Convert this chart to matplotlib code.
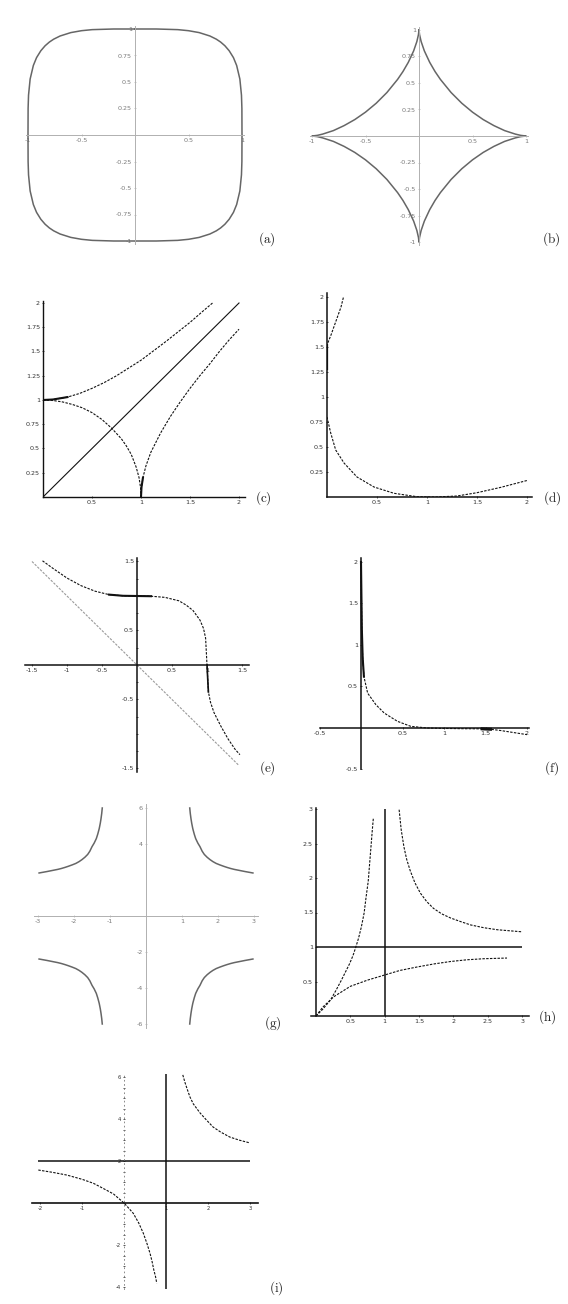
import matplotlib
matplotlib.use("Agg")
import matplotlib.pyplot as plt
import numpy as np

plt.rcParams["mathtext.fontset"] = "cm"
plt.rcParams["axes.unicode_minus"] = False
plt.rcParams["font.family"] = "DejaVu Sans"

# ---------------- data ----------------
# (a) quartic oval, first quadrant (mirrored to the other three)
a_x = [0.0, 0.2, 0.4, 0.5, 0.6, 0.7, 0.76, 0.8, 0.84, 0.88, 0.92, 0.95, 0.98, 0.995, 0.999, 1.0]
a_y = [1.0, 1.0, 0.994, 0.984, 0.966, 0.934, 0.904, 0.877, 0.842, 0.795, 0.730, 0.656, 0.528, 0.376, 0.251, 0.0]

# (b) astroid, first quadrant (mirrored)
b_x = [0.0, 0.005, 0.02, 0.05, 0.1, 0.15, 0.2, 0.3, 0.4, 0.5, 0.6, 0.7, 0.8, 0.9, 0.95, 1.0]
b_y = [1.0, 0.957, 0.891, 0.803, 0.695, 0.608, 0.534, 0.410, 0.309, 0.225, 0.155, 0.098, 0.051, 0.018, 0.006, 0.0]

# (c) diagonal, upper branch, quarter circle, lower branch
c_diag_x = [0.0, 2.0]
c_diag_y = [0.0, 2.0]
c_up_x = [0.0, 0.1, 0.25, 0.375, 0.5, 0.625, 0.75, 0.875, 1.0, 1.125, 1.25, 1.375, 1.5, 1.625, 1.73]
c_up_y = [1.0, 1.005, 1.03, 1.068, 1.12, 1.18, 1.25, 1.33, 1.41, 1.505, 1.60, 1.70, 1.80, 1.91, 2.0]
c_circ_x = [0.0, 0.1, 0.2, 0.3, 0.4, 0.5, 0.6, 0.7, 0.8, 0.85, 0.9, 0.95, 0.98, 0.995, 1.0]
c_circ_y = [1.0, 0.995, 0.98, 0.954, 0.92, 0.87, 0.80, 0.71, 0.60, 0.527, 0.44, 0.31, 0.20, 0.10, 0.0]
c_low_x = [1.0, 1.005, 1.02, 1.05, 1.1, 1.2, 1.3, 1.4, 1.5, 1.6, 1.7, 1.8, 1.9, 2.0]
c_low_y = [0.0, 0.1, 0.2, 0.32, 0.46, 0.66, 0.83, 0.98, 1.12, 1.25, 1.37, 1.50, 1.62, 1.73]

# (d) two branches
d_x = [0.0, 0.037, 0.087, 0.17, 0.30, 0.47, 0.67, 0.90, 1.09, 1.30, 1.50, 1.74, 2.0]
d_y = [0.80, 0.64, 0.47, 0.34, 0.20, 0.10, 0.037, 0.003, 0.0, 0.01, 0.043, 0.097, 0.165]
d2_x = [0.0, 0.0, 0.04, 0.09, 0.14, 0.165]
d2_y = [1.28, 1.52, 1.62, 1.76, 1.90, 2.0]

# (e) cubic curve and its asymptote
e_x = [-1.35, -1.2, -1.0, -0.8, -0.6, -0.4, -0.2, 0.0, 0.2, 0.4, 0.6, 0.7, 0.8, 0.9, 0.95,
       0.98, 1.0, 1.02, 1.05, 1.1, 1.2, 1.3, 1.4, 1.47]
e_y = [1.51, 1.40, 1.26, 1.15, 1.07, 1.02, 1.003, 1.0, 0.997, 0.98, 0.93, 0.87, 0.79, 0.65, 0.53,
       0.39, 0.0, -0.39, -0.54, -0.69, -0.89, -1.07, -1.22, -1.30]
e_asym_x = [-1.5, 1.45]
e_asym_y = [1.5, -1.45]

# (f) decaying curve
f_x = [0.0, 0.005, 0.01, 0.02, 0.035, 0.08, 0.18, 0.28, 0.44, 0.60, 0.80, 1.0, 1.2, 1.46, 1.56, 1.68, 2.0]
f_y = [2.0, 1.6, 1.2, 0.85, 0.62, 0.42, 0.28, 0.18, 0.08, 0.02, 0.0, -0.005, -0.008, -0.01, -0.015,
       -0.03, -0.08]

# (g) one branch, mirrored into four quadrants
g_x = [1.215, 1.23, 1.25, 1.27, 1.30, 1.34, 1.38, 1.44, 1.50, 1.56, 1.62, 1.70, 1.78, 1.86, 1.95,
       2.05, 2.16, 2.25, 2.35, 2.45, 2.55, 2.65, 2.75, 2.86, 2.97]
g_y = [6.0, 5.7, 5.4, 5.15, 4.85, 4.55, 4.3, 4.05, 3.85, 3.6, 3.42, 3.26, 3.13, 3.02, 2.92,
       2.84, 2.76, 2.70, 2.64, 2.59, 2.55, 2.51, 2.47, 2.43, 2.39]

# (h) three curves and two asymptotes
h1_x = [0.0, 0.1, 0.21, 0.29, 0.37, 0.43, 0.49, 0.54, 0.58, 0.62, 0.66, 0.70, 0.73, 0.76, 0.78, 0.80, 0.82, 0.835]
h1_y = [0.0, 0.1, 0.23, 0.37, 0.52, 0.64, 0.76, 0.88, 1.0, 1.13, 1.29, 1.49, 1.73, 1.95, 2.2, 2.45, 2.7, 2.87]
h2_x = [0.0, 0.1, 0.26, 0.5, 0.75, 0.985, 1.22, 1.47, 1.72, 1.96, 2.2, 2.44, 2.78]
h2_y = [0.0, 0.13, 0.28, 0.43, 0.52, 0.59, 0.66, 0.71, 0.755, 0.79, 0.815, 0.83, 0.84]
h3_x = [1.21, 1.24, 1.28, 1.32, 1.37, 1.44, 1.52, 1.61, 1.71, 1.83, 1.96, 2.1, 2.25, 2.44, 2.64, 2.82, 3.0]
h3_y = [2.99, 2.70, 2.45, 2.27, 2.11, 1.93, 1.78, 1.66, 1.56, 1.48, 1.42, 1.37, 1.32, 1.28, 1.25, 1.235, 1.22]
h_asym_x = 1.0
h_asym_y = 1.0

# (i) hyperbola branches and asymptotes
i_right_x = [1.40, 1.45, 1.50, 1.57, 1.65, 1.81, 1.95, 2.12, 2.30, 2.52, 2.75, 3.0]
i_right_y = [6.1, 5.75, 5.45, 5.05, 4.72, 4.29, 3.98, 3.62, 3.38, 3.14, 2.99, 2.86]
i_left_x = [-2.04, -1.7, -1.36, -1.0, -0.73, -0.5, -0.25, 0.0, 0.1, 0.22, 0.35, 0.46, 0.55, 0.62,
            0.67, 0.71, 0.75, 0.78]
i_left_y = [1.57, 1.46, 1.33, 1.13, 0.94, 0.70, 0.43, 0.0, -0.22, -0.49, -0.95, -1.44, -1.95, -2.4,
            -2.8, -3.19, -3.5, -3.82]
i_asym_x = 1.0
i_asym_y = 2.0

# ---------------- layout helpers ----------------
W, H = 568, 1304
fig = plt.figure(figsize=(W / 100, H / 100), dpi=100)
fig.patch.set_facecolor("white")


def make_axes(origin, scale, xlim, ylim):
    ox, oy = origin
    sx, sy = scale
    x0 = ox + xlim[0] * sx
    x1 = ox + xlim[1] * sx
    ytop = oy - ylim[1] * sy
    ybot = oy - ylim[0] * sy
    ax = fig.add_axes([x0 / W, 1 - ybot / H, (x1 - x0) / W, (ybot - ytop) / H])
    ax.set_xlim(*xlim)
    ax.set_ylim(*ylim)
    ax.patch.set_visible(False)
    return ax


def fmt(v):
    return "%g" % v


def style(ax, color, lw, xt, yt, label_color, xl=None, yl=None, fs=4.6):
    ax.spines["top"].set_visible(False)
    ax.spines["right"].set_visible(False)
    for s in ("left", "bottom"):
        ax.spines[s].set_position(("data", 0))
        ax.spines[s].set_color(color)
        ax.spines[s].set_linewidth(lw)
    ax.set_xticks(xt)
    ax.set_yticks(yt)
    ax.set_xticklabels(xl if xl is not None else [fmt(v) for v in xt])
    ax.set_yticklabels(yl if yl is not None else [fmt(v) for v in yt])
    ax.tick_params(axis="both", which="both", length=2, width=0.5, color=color,
                   labelcolor=label_color, labelsize=fs, pad=1.2, direction="inout")


def panel_label(x, y, s):
    fig.text(x / W, 1 - y / H, r"$\mathrm{(%s)}$" % s, ha="center", va="center",
             fontsize=9.5, color="#222222")


def mirror4(x, y):
    x = np.asarray(x)
    y = np.asarray(y)
    xs = np.concatenate([x, x[::-1], -x, -x[::-1], x[:1]])
    ys = np.concatenate([y, -y[::-1], -y, y[::-1], y[:1]])
    return xs, ys


DASH = (0, (2.2, 1.2))
INK = "#111111"
GREY_AX = "#b0b0b0"
GREY_LBL = "#7a7a7a"
GREY_CURVE = "#666666"

# ---------------- (a) ----------------
ax = make_axes((135, 135), (107, 106), (-1.02, 1.02), (-1.03, 1.03))
style(ax, GREY_AX, 0.7, [-1, -0.5, 0.5, 1], [-1, -0.75, -0.5, -0.25, 0.25, 0.5, 0.75, 1],
      GREY_LBL)
xs, ys = mirror4(a_x, a_y)
ax.plot(xs, ys, color=GREY_CURVE, lw=1.1)
panel_label(267, 239, "a")

# ---------------- (b) ----------------
ax = make_axes((419, 136), (107, 106), (-1.02, 1.02), (-1.03, 1.03))
style(ax, GREY_AX, 0.7, [-1, -0.5, 0.5, 1], [-1, -0.75, -0.5, -0.25, 0.25, 0.5, 0.75, 1],
      GREY_LBL)
xs, ys = mirror4(b_x, b_y)
ax.plot(xs, ys, color=GREY_CURVE, lw=1.1)
panel_label(551, 239, "b")

# ---------------- (c) ----------------
ax = make_axes((43, 497), (98, 97), (0, 2.06), (0, 2.02))
style(ax, INK, 1.0, [0.5, 1, 1.5, 2], [0.25, 0.5, 0.75, 1, 1.25, 1.5, 1.75, 2], "#333333")
ax.plot(c_diag_x, c_diag_y, color=INK, lw=0.8)
ax.plot(c_up_x, c_up_y, color=INK, lw=0.8, ls=DASH)
ax.plot(c_circ_x, c_circ_y, color=INK, lw=0.8, ls=DASH)
ax.plot(c_low_x, c_low_y, color=INK, lw=0.8, ls=DASH)
ax.plot(c_up_x[:3], c_up_y[:3], color=INK, lw=1.5)
ax.plot(c_low_x[:3], c_low_y[:3], color=INK, lw=1.5)
panel_label(263, 498, "c")

# ---------------- (d) ----------------
ax = make_axes((327, 497), (100, 100), (0, 2.05), (0, 2.04))
style(ax, INK, 1.1, [0.5, 1, 1.5, 2], [0.25, 0.5, 0.75, 1, 1.25, 1.5, 1.75, 2], "#333333")
ax.plot(d_x, d_y, color=INK, lw=0.8, ls=DASH)
ax.plot(d2_x, d2_y, color=INK, lw=0.8, ls=DASH)
ax.plot(d2_x[:2], d2_y[:2], color=INK, lw=1.6)
panel_label(552, 498, "d")

# ---------------- (e) ----------------
ax = make_axes((137, 665), (70, 69), (-1.6, 1.6), (-1.55, 1.55))
style(ax, INK, 1.1, [-1.5, -1, -0.5, 0.5, 1, 1.5], [-1.5, -1, -0.5, 0.5, 1, 1.5], "#333333",
      yl=["-1.5", "", "-0.5", "0.5", "", "1.5"])
ax.set_yticks([-1.25, -0.75, -0.25, 0.25, 0.75, 1.25], minor=True)
ax.plot(e_asym_x, e_asym_y, color="#9a9a9a", lw=0.8, ls=DASH)
ax.plot(e_x, e_y, color=INK, lw=0.8, ls=DASH)
ax.plot(e_x[5:9], e_y[5:9], color=INK, lw=1.5)
ax.plot(e_x[16:18], e_y[16:18], color=INK, lw=1.2)
panel_label(267, 768, "e")

# ---------------- (f) ----------------
ax = make_axes((361, 728), (83, 83), (-0.5, 2.02), (-0.5, 2.05))
style(ax, INK, 1.1, [-0.5, 0.5, 1, 1.5, 2], [-0.5, 0.5, 1, 1.5, 2], "#333333")
ax.plot(f_x, f_y, color=INK, lw=0.8, ls=DASH)
ax.plot(f_x[:5], f_y[:5], color=INK, lw=1.5)
ax.plot(f_x[13:15], f_y[13:15], color=INK, lw=2.2)
panel_label(552, 768, "f")

# ---------------- (g) ----------------
ax = make_axes((146, 916), (36, 18), (-3.1, 3.1), (-6.2, 6.2))
style(ax, GREY_AX, 0.7, [-3, -2, -1, 1, 2, 3], [-6, -4, -2, 4, 6], GREY_LBL)
gx = np.asarray(g_x)
gy = np.asarray(g_y)
for sx_, sy_ in ((1, 1), (-1, 1), (1, -1), (-1, -1)):
    ax.plot(sx_ * gx, sy_ * gy, color=GREY_CURVE, lw=1.1)
panel_label(273, 1023, "g")

# ---------------- (h) ----------------
ax = make_axes((316, 1016), (68.7, 69), (-0.08, 3.1), (0, 3.02))
style(ax, INK, 1.1, [0.5, 1, 1.5, 2, 2.5, 3], [0.5, 1, 1.5, 2, 2.5, 3], "#333333")
ax.hlines(h_asym_y, 0, 3.0, color=INK, lw=1.1)
ax.vlines(h_asym_x, 0, 3.0, color=INK, lw=1.1)
ax.plot(h1_x, h1_y, color=INK, lw=0.8, ls=DASH)
ax.plot(h2_x, h2_y, color=INK, lw=0.8, ls=DASH)
ax.plot(h3_x, h3_y, color=INK, lw=0.8, ls=DASH)
panel_label(547, 1017, "h")

# ---------------- (i) ----------------
ax = make_axes((124, 1203), (42, 21), (-2.2, 3.2), (-4.1, 6.15))
style(ax, INK, 1.2, [-2, -1, 1, 2, 3], [-4, -2, 2, 4, 6], "#333333", fs=3.8)
ax.spines["left"].set_color("#777777")
ax.spines["left"].set_linewidth(0.6)
ax.spines["left"].set_linestyle((0, (1, 4)))
ax.set_yticks(np.arange(-4, 6.01, 0.5), minor=True)
ax.hlines(i_asym_y, -2.05, 3.0, color=INK, lw=1.1)
ax.axvline(i_asym_x, color=INK, lw=1.1)
ax.plot(i_right_x, i_right_y, color=INK, lw=0.8, ls=DASH)
ax.plot(i_left_x, i_left_y, color=INK, lw=0.8, ls=DASH)
panel_label(276, 1288, "i")

fig.savefig("out.png", dpi=100, facecolor="white")
